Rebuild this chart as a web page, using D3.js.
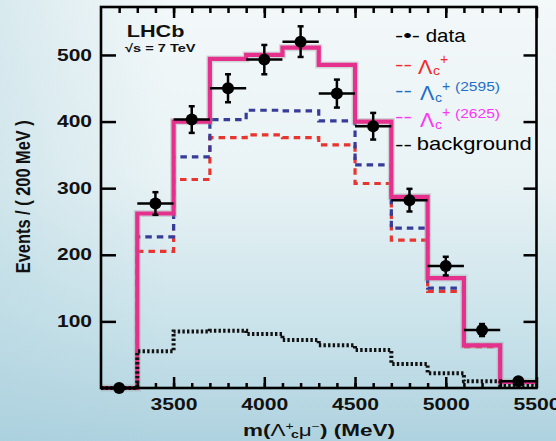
<!DOCTYPE html>
<html>
<head>
<meta charset="utf-8">
<script src="https://cdn.jsdelivr.net/npm/d3@7"></script>
<style>
  body { margin: 0; }
  svg { display: block; }
  text { font-family: "Liberation Sans", Arial, sans-serif; }
</style>
</head>
<body>
<svg width="556" height="441"></svg>
<script>
// bins of 200 MeV, lower edges
const binLow = [3100, 3300, 3500, 3700, 3900, 4100, 4300, 4500, 4700, 4900, 5100, 5300];
const binHigh = 5500;
// stacked fit components (events / 200 MeV)
const fitTotal = [0, 262, 400, 494, 500, 511, 485, 400, 287, 165, 64, 9];
const fitLc = [0, 205, 313, 376, 380, 376, 365, 307, 222, 145, 62, 8];
const fitLc2595 = [0, 227, 347, 403, 417, 416, 401, 335, 240, 150, 64, 9];
const fitBkg = [0, 55, 85, 86, 81, 72, 64, 57, 36, 22, 10, 3];
// data points at bin centres
const dataMass = [3200, 3400, 3600, 3800, 4000, 4200, 4400, 4600, 4800, 5000, 5200, 5400];
const dataN = [0, 277, 403, 450, 493, 520, 442, 393, 282, 183, 87, 10];
const dataErr = [0, 17, 20, 21, 22, 23, 21, 20, 17, 14, 9, 3];
const xTicks = [3500, 4000, 4500, 5000, 5500];
const yTicks = [100, 200, 300, 400, 500];

const svg = d3.select("svg");

// backdrop
const defs = svg.append("defs");
const bg = defs.append("linearGradient").attr("id", "bg")
  .attr("x1", 0).attr("y1", 0).attr("x2", 0).attr("y2", 1);
bg.append("stop").attr("offset", "0%").attr("stop-color", "#f3f8f9");
bg.append("stop").attr("offset", "40%").attr("stop-color", "#e9f3f5");
bg.append("stop").attr("offset", "75%").attr("stop-color", "#c9e2ea");
bg.append("stop").attr("offset", "100%").attr("stop-color", "#aed2df");
const side = defs.append("linearGradient").attr("id", "side")
  .attr("x1", 0).attr("y1", 0).attr("x2", 1).attr("y2", 0);
side.append("stop").attr("offset", "0%").attr("stop-color", "#a8cfdc").attr("stop-opacity", 0.35);
side.append("stop").attr("offset", "30%").attr("stop-color", "#a8cfdc").attr("stop-opacity", 0);
svg.append("rect").attr("width", 556).attr("height", 441).attr("fill", "url(#bg)");
svg.append("rect").attr("width", 556).attr("height", 441).attr("fill", "url(#side)");

const x = d3.scaleLinear().domain([3100, 5500]).range([101, 536.5]);
const y = d3.scaleLinear().domain([0, 572]).range([388, 7]);

function stepPts(vals) {
  const pts = binLow.map((b, i) => [b, vals[i]]);
  pts.push([binHigh, vals[vals.length - 1]]);
  return pts;
}
const step = d3.line().x(d => x(d[0])).y(d => y(d[1])).curve(d3.curveStepAfter);

// fit components
svg.append("path").datum(stepPts(fitLc))
  .attr("d", step).attr("fill", "none")
  .attr("stroke", "#e8352f").attr("stroke-width", 3.2).attr("stroke-dasharray", "6.5,5");
svg.append("path").datum(stepPts(fitLc2595))
  .attr("d", step).attr("fill", "none")
  .attr("stroke", "#363c98").attr("stroke-width", 3.2).attr("stroke-dasharray", "6.5,5");
svg.append("path").datum(stepPts(fitTotal))
  .attr("d", step).attr("fill", "none")
  .attr("stroke", "#9a9a9a").attr("stroke-opacity", 0.35).attr("stroke-width", 7);
svg.append("path").datum(stepPts(fitTotal))
  .attr("d", step).attr("fill", "none")
  .attr("stroke", "#e5318d").attr("stroke-width", 4.2);
svg.append("path").datum(stepPts(fitBkg))
  .attr("d", step).attr("fill", "none")
  .attr("stroke", "#111").attr("stroke-width", 4).attr("stroke-dasharray", "2.4,2.2");

// axes
function styleAxis(g) {
  g.select(".domain").remove();
  g.selectAll(".tick line").attr("stroke", "#000").attr("stroke-width", 2.5);
  g.selectAll("text").attr("fill", "#111").attr("font-size", 16).attr("font-weight", "bold")
    .attr("font-family", "'Liberation Sans', Arial, sans-serif");
}
const minor = d3.range(3200, 5500, 100);
svg.append("g").attr("transform", "translate(0,388)")
  .call(d3.axisBottom(x).tickValues(minor).tickSize(-5).tickFormat(""))
  .call(styleAxis);
svg.append("g").attr("transform", "translate(0,388)")
  .call(d3.axisBottom(x).tickValues(xTicks).tickSize(-11).tickPadding(11).tickFormat(d3.format("d")))
  .call(styleAxis)
  .selectAll("text").attr("textLength", 47).attr("lengthAdjust", "spacingAndGlyphs");
svg.append("g").attr("transform", "translate(0,7)")
  .call(d3.axisTop(x).tickValues(minor).tickSize(-6).tickFormat(""))
  .call(styleAxis);
svg.append("g").attr("transform", "translate(0,7)")
  .call(d3.axisTop(x).tickValues(xTicks).tickSize(-11).tickFormat(""))
  .call(styleAxis);
svg.append("g").attr("transform", "translate(101,0)")
  .call(d3.axisLeft(y).tickValues(yTicks).tickSize(-15).tickPadding(9))
  .call(styleAxis)
  .selectAll("text").attr("textLength", 35).attr("lengthAdjust", "spacingAndGlyphs");
svg.append("g").attr("transform", "translate(536.5,0)")
  .call(d3.axisRight(y).tickValues(yTicks).tickSize(-13).tickFormat(""))
  .call(styleAxis);

svg.append("rect")
  .attr("x", x(3100)).attr("y", y(572))
  .attr("width", x(5500) - x(3100)).attr("height", y(0) - y(572))
  .attr("fill", "none").attr("stroke", "#000").attr("stroke-width", 2.6);

// data with error bars
const pts = svg.append("g").selectAll("g").data(dataMass).join("g");
pts.append("line")
  .attr("x1", d => x(d - 100)).attr("x2", d => x(d + 100))
  .attr("y1", (d, i) => y(dataN[i])).attr("y2", (d, i) => y(dataN[i]))
  .attr("stroke", "#000").attr("stroke-width", 2.5);
pts.append("line")
  .attr("x1", d => x(d)).attr("x2", d => x(d))
  .attr("y1", (d, i) => y(dataN[i] - dataErr[i])).attr("y2", (d, i) => y(dataN[i] + dataErr[i]))
  .attr("stroke", "#000").attr("stroke-width", 2.5);
[1, -1].forEach(s => {
  pts.filter((d, i) => dataErr[i] > 0).append("line")
    .attr("x1", d => x(d) - 3).attr("x2", d => x(d) + 3)
    .attr("y1", d => y(dataN[dataMass.indexOf(d)] + s * dataErr[dataMass.indexOf(d)]))
    .attr("y2", d => y(dataN[dataMass.indexOf(d)] + s * dataErr[dataMass.indexOf(d)]))
    .attr("stroke", "#000").attr("stroke-width", 2.5);
});
pts.append("circle")
  .attr("cx", d => x(d)).attr("cy", (d, i) => y(dataN[i]))
  .attr("r", 6).attr("fill", "#000");

// text stretched to a measured width
function putText(x0, y0, width, build, extra) {
  const t = svg.append("text");
  build(t);
  const w = t.node().getBBox().width;
  const sx = width ? width / w : 1;
  t.attr("transform", `translate(${x0},${y0}) ${extra || ""} scale(${sx},1)`);
  return t;
}

// LHCb label
putText(126.7, 36.7, 58, t => t.text("LHCb").attr("font-size", 16).attr("font-weight", "bold").attr("fill", "#111"));
putText(125, 51.7, 71, t => t.text("\u221As = 7 TeV").attr("font-size", 11.5).attr("font-weight", "bold").attr("fill", "#111"));

// axis titles
const yl = svg.append("text").text("Events / ( 200 MeV )")
  .attr("font-size", 16).attr("font-weight", "bold").attr("fill", "#111").attr("text-anchor", "middle");
const ylw = yl.node().getBBox().width;
yl.attr("transform", `translate(30,196.7) rotate(-90) scale(${153 / ylw},1.3)`);

putText(243, 435.5, 152, t => {
  t.attr("font-size", 16).attr("font-weight", "bold").attr("fill", "#111");
  t.append("tspan").text("m(");
  t.append("tspan").text("\u039B").attr("font-weight", "normal");
  t.append("tspan").text("+").attr("font-size", 10).attr("font-weight", "normal").attr("dy", -6);
  t.append("tspan").text("c").attr("font-size", 10).attr("dy", 8.5).attr("dx", -2);
  t.append("tspan").text("\u03BC").attr("font-weight", "normal").attr("dy", -2.5);
  t.append("tspan").text("\u2212").attr("font-size", 10).attr("font-weight", "normal").attr("dy", -6);
  t.append("tspan").text(")  (MeV)").attr("dy", 6);
});

// legend
const serif = "'Liberation Serif', 'Times New Roman', serif";
putText(395, 41.5, 25, t => t.text("-\u2022-").attr("font-size", 18).attr("fill", "#000"));
putText(425.7, 41.7, 41, t => t.text("data").attr("font-size", 18).attr("fill", "#000"));

const legRows = [
  {color: "#f52a2a", dashY: 70.5, base: 73.5, lx: 418, mass: null},
  {color: "#1f6fc6", dashY: 97.2, base: 100.2, lx: 420, mass: "(2595)"},
  {color: "#fb35f5", dashY: 123.2, base: 126.9, lx: 420, mass: "(2625)"}
];
legRows.forEach(r => {
  putText(395, r.dashY, 17, t => t.text("--").attr("font-size", 18).attr("fill", r.color));
  putText(r.lx, r.base, 15, t => t.text("\u039B").attr("font-size", 20)
    .attr("font-family", serif).attr("fill", r.color));
  putText(r.lx + 15, r.base + 1.8, 7, t => t.text("c").attr("font-size", 12).attr("fill", r.color));
  putText(r.lx + 22, r.base - 9.5, 8.5, t => t.text("+").attr("font-size", 15).attr("fill", r.color));
  if (r.mass) {
    putText(455, r.base - 8.8, 45, t => t.text(r.mass).attr("font-size", 13).attr("fill", r.color));
  }
});
putText(395, 150.5, 17, t => t.text("--").attr("font-size", 18).attr("fill", "#000"));
putText(416.7, 150, 115, t => t.text("background").attr("font-size", 18).attr("fill", "#000"));
</script>
</body>
</html>
